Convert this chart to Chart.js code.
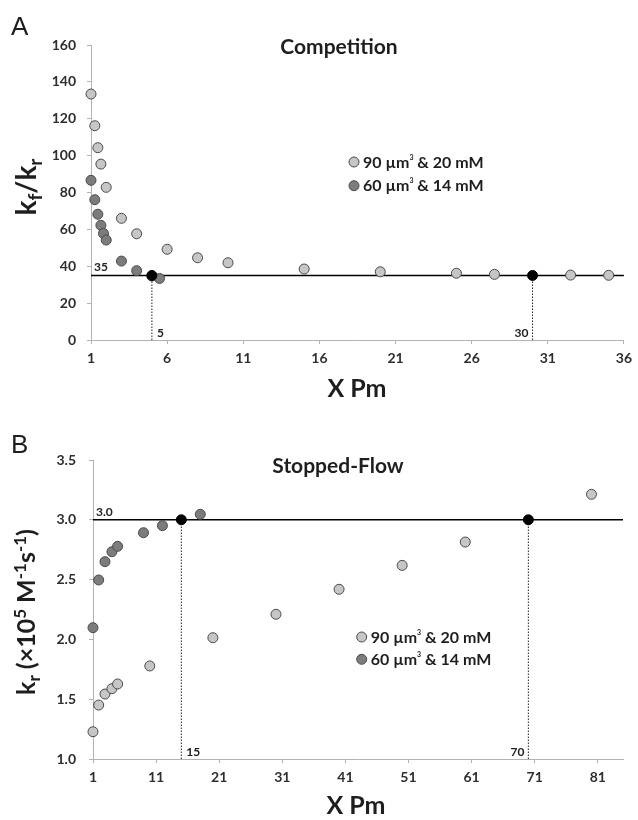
<!DOCTYPE html>
<html>
<head>
<meta charset="utf-8">
<script src="https://cdn.jsdelivr.net/npm/chart.js@4.4.0/dist/chart.umd.min.js"></script>
<style>
    html, body { margin: 0; padding: 0; background: #fff; }
    #page { position: relative; width: 638px; height: 820px; overflow: hidden; }
    canvas { position: absolute; left: 0; }
    #chartA { top: 0; }
    #chartB { top: 400px; }
</style>
</head>
<body>
<div id="page">
    <canvas id="chartA" width="638" height="400"></canvas>
    <canvas id="chartB" width="638" height="420"></canvas>
</div>
<script>
// Panel A - competition experiment
const compX90 = [1, 1.25, 1.45, 1.65, 2, 3, 4, 6, 8, 10, 15, 20, 25, 27.5, 32.5, 35];
const compY90 = [133.4, 116.2, 104.3, 95.4, 82.8, 66.0, 57.6, 49.2, 44.6, 41.9, 38.5, 37.0, 36.2, 35.6, 35.2, 35.1];
const compX60 = [1, 1.25, 1.45, 1.65, 1.82, 2, 3, 4, 5, 5.5];
const compY60 = [86.6, 76.1, 68.2, 62.2, 57.8, 54.2, 42.8, 37.6, 34.7, 33.4];
const compLevel = 35;
const compCross = [5, 30];
const compRangeX = [1, 36];
const compRangeY = [0, 160];
const compTicksX = [1, 6, 11, 16, 21, 26, 31, 36];
const compTicksY = [0, 20, 40, 60, 80, 100, 120, 140, 160];

// Panel B - stopped-flow experiment
const sfX90 = [1, 1.9, 2.9, 4, 4.9, 10, 20, 30, 40, 50, 60, 80];
const sfY90 = [1.228, 1.451, 1.543, 1.588, 1.627, 1.778, 2.014, 2.21, 2.419, 2.619, 2.814, 3.213];
const sfX60 = [1, 1.9, 2.9, 4, 4.9, 9, 12, 18];
const sfY60 = [2.098, 2.497, 2.65, 2.733, 2.778, 2.892, 2.951, 3.046];
const sfLevel = 3.0;
const sfCross = [15, 70];
const sfRangeX = [1, 85];
const sfRangeY = [1.0, 3.5];
const sfTicksX = [1, 11, 21, 31, 41, 51, 61, 71, 81];
const sfTicksY = [1.0, 1.5, 2.0, 2.5, 3.0, 3.5];

const seriesNames = [
    [["90 µm", ""], ["3", "sup"], [" & 20 mM", ""]],
    [["60 µm", ""], ["3", "sup"], [" & 14 mM", ""]],
];

const FONT = "Lato, 'Open Sans', sans-serif";
const LIGHT = "#c6c6c6";
const DARK = "#7c7c7c";
const EDGE = "#4a4a4a";
const AXIS = "#b3b3b3";
const INK = "#1e1e1e";
const TICK_INK = "#2e2e2e";

function toPoints(xs, ys) {
    return xs.map((x, i) => ({ x, y: ys[i] }));
}

// run kinds: "" plain, "sub" subscript, "sup" small superscript, "exp" exponent
const RUN_SCALE = { sub: 0.68, sup: 0.45, exp: 0.68 };
const RUN_SHIFT = { sub: 0.2, sup: -0.5, exp: -0.38 };

function drawRich(ctx, parts, x, y, size, align) {
    const fontFor = (kind) => `bold ${kind ? Math.round(size * RUN_SCALE[kind]) : size}px ${FONT}`;
    let total = 0;
    for (const [text, kind] of parts) {
        ctx.font = fontFor(kind);
        total += ctx.measureText(text).width;
    }
    let cx = align === "center" ? x - total / 2 : x;
    ctx.textAlign = "left";
    ctx.textBaseline = "alphabetic";
    for (const [text, kind] of parts) {
        ctx.font = fontFor(kind);
        const dy = kind ? size * RUN_SHIFT[kind] : 0;
        ctx.fillText(text, cx, y + dy);
        cx += ctx.measureText(text).width;
    }
}

const decorations = {
    id: "decorations",
    afterDraw(chart, args, o) {
        const { ctx, chartArea } = chart;
        const xs = chart.scales.x;
        const ys = chart.scales.y;
        ctx.save();
        ctx.fillStyle = INK;

        // panel letter
        ctx.font = `26px 'Liberation Sans', Arial, sans-serif`;
        ctx.textAlign = "left";
        ctx.textBaseline = "alphabetic";
        ctx.fillText(o.letter, 11, o.letterY);

        // title
        ctx.font = `bold 21px ${FONT}`;
        ctx.textAlign = "center";
        ctx.fillText(o.title, o.titleX, o.titleY);

        // axis titles
        drawRich(ctx, [["X Pm", ""]], o.xTitleX, o.xTitleY, 25, "center");
        ctx.save();
        ctx.translate(o.yTitleX, o.yTitleY);
        ctx.rotate(-Math.PI / 2);
        drawRich(ctx, o.yTitle, 0, 0, o.yTitleSize, "center");
        ctx.restore();

        // level and crossing labels
        ctx.fillStyle = "#222";
        ctx.font = `bold 12px ${FONT}`;
        ctx.textAlign = "left";
        ctx.fillText(o.levelText, chartArea.left + 3, ys.getPixelForValue(o.level) - 4);
        o.cross.forEach((c, i) => {
            const px = xs.getPixelForValue(c);
            const right = o.crossSide[i] === "right";
            ctx.textAlign = right ? "left" : "right";
            ctx.fillText(String(c), right ? px + 5 : px - 4, chartArea.bottom - 3);
        });

        // legend
        o.legendRows.forEach((cy, i) => {
            ctx.beginPath();
            ctx.arc(o.legendX, cy, 5, 0, Math.PI * 2);
            ctx.fillStyle = i === 0 ? LIGHT : DARK;
            ctx.fill();
            ctx.lineWidth = 1;
            ctx.strokeStyle = EDGE;
            ctx.stroke();
            ctx.fillStyle = INK;
            drawRich(ctx, seriesNames[i], o.legendX + 9, cy + 5.5, 16, "left");
        });
        ctx.restore();
    },
};

function buildChart(id, cfg) {
    const pointStyle = (fill) => ({
        type: "scatter",
        backgroundColor: fill,
        borderColor: EDGE,
        borderWidth: 1,
        pointRadius: 5,
        pointHoverRadius: 5,
        clip: false,
    });
    const datasets = [
        { ...pointStyle("#000"), borderColor: "#000", data: cfg.cross.map((x) => ({ x, y: cfg.level })) },
        { ...pointStyle(DARK), data: toPoints(cfg.x60, cfg.y60) },
        { ...pointStyle(LIGHT), data: toPoints(cfg.x90, cfg.y90) },
        {
            type: "line",
            data: cfg.rangeX.map((x) => ({ x, y: cfg.level })),
            borderColor: "#000",
            borderWidth: 1.6,
            pointRadius: 0,
            clip: false,
        },
        ...cfg.cross.map((x) => ({
            type: "line",
            data: [{ x, y: cfg.rangeY[0] }, { x, y: cfg.level }],
            borderColor: "#222",
            borderWidth: 1,
            borderDash: [1.5, 1.5],
            pointRadius: 0,
        })),
    ];

    const tickFont = { family: FONT, size: 14, weight: "bold" };
    return new Chart(document.getElementById(id), {
        type: "scatter",
        data: { datasets },
        plugins: [decorations],
        options: {
            responsive: false,
            animation: false,
            events: [],
            layout: { padding: { top: cfg.padTop, right: cfg.padRight, left: 0, bottom: 0 } },
            plugins: {
                legend: { display: false },
                tooltip: { enabled: false },
                decorations: cfg.deco,
            },
            scales: {
                x: {
                    type: "linear",
                    min: cfg.rangeX[0],
                    max: cfg.rangeX[1],
                    afterBuildTicks: (s) => { s.ticks = cfg.ticksX.map((v) => ({ value: v })); },
                    afterFit: (s) => { s.height = cfg.xAxisHeight; },
                    grid: { drawOnChartArea: false, drawTicks: true, tickLength: 4, color: AXIS },
                    border: { display: true, color: AXIS, width: 1 },
                    ticks: { font: tickFont, color: TICK_INK, padding: 6, maxRotation: 0, autoSkip: false },
                },
                y: {
                    type: "linear",
                    min: cfg.rangeY[0],
                    max: cfg.rangeY[1],
                    afterBuildTicks: (s) => { s.ticks = cfg.ticksY.map((v) => ({ value: v })); },
                    afterFit: (s) => { s.width = cfg.yAxisWidth; },
                    grid: { drawOnChartArea: false, drawTicks: true, tickLength: 4, color: AXIS },
                    border: { display: true, color: AXIS, width: 1 },
                    ticks: {
                        font: tickFont,
                        color: TICK_INK,
                        padding: cfg.yPad,
                        callback: (v) => v.toFixed(cfg.decimals),
                    },
                },
            },
        },
    });
}

buildChart("chartA", {
    x90: compX90, y90: compY90, x60: compX60, y60: compY60,
    level: compLevel, cross: compCross, rangeX: compRangeX, rangeY: compRangeY,
    ticksX: compTicksX, ticksY: compTicksY, decimals: 0,
    padTop: 45, padRight: 8, xAxisHeight: 60, yAxisWidth: 91, yPad: 11,
    deco: {
        letter: "A", letterY: 35,
        title: "Competition", titleX: 339, titleY: 54,
        xTitleX: 357, xTitleY: 397,
        yTitle: [["k", ""], ["f", "sub"], ["/k", ""], ["r", "sub"]],
        yTitleX: 36, yTitleY: 187, yTitleSize: 28,
        level: compLevel, levelText: String(compLevel),
        cross: compCross, crossSide: ["right", "left"],
        legendX: 354, legendRows: [162, 185.7],
    },
});

buildChart("chartB", {
    x90: sfX90, y90: sfY90, x60: sfX60, y60: sfY60,
    level: sfLevel, cross: sfCross, rangeX: sfRangeX, rangeY: sfRangeY,
    ticksX: sfTicksX, ticksY: sfTicksY, decimals: 1,
    padTop: 60, padRight: 15, xAxisHeight: 61, yAxisWidth: 93, yPad: 13,
    deco: {
        letter: "B", letterY: 53,
        title: "Stopped-Flow", titleX: 338, titleY: 73,
        xTitleX: 356, xTitleY: 414,
        yTitle: [["k", ""], ["r", "sub"], [" (×10", ""], ["5", "exp"], [" M", ""], ["-1", "exp"], ["s", ""], ["-1", "exp"], [")", ""]],
        yTitleX: 35, yTitleY: 212, yTitleSize: 25,
        level: sfLevel, levelText: sfLevel.toFixed(1),
        cross: sfCross, crossSide: ["right", "left"],
        legendX: 361.7, legendRows: [237, 259.3],
    },
});
</script>
</body>
</html>
